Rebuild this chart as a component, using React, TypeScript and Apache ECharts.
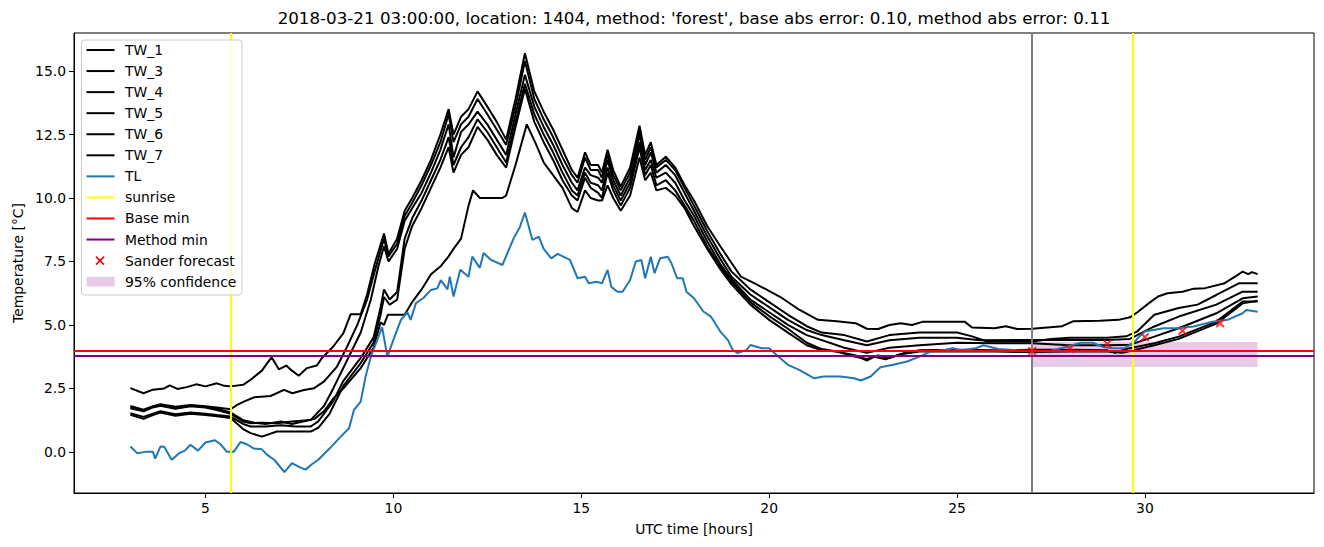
import React, { useEffect, useRef } from "react";
import * as echarts from "echarts";

type P = [number, number];

const TW_1: P[] = [[3,2.51],[3.35,2.31],[3.6,2.45],[3.9,2.5],[4.05,2.62],[4.25,2.48],[4.5,2.55],[4.75,2.66],[5.0,2.58],[5.3,2.7],[5.5,2.6],[5.67,2.58],[6.0,2.64],[6.2,2.84],[6.5,3.2],[6.76,3.73],[6.95,3.25],[7.15,3.4],[7.3,3.2],[7.48,3.0],[7.7,3.3],[7.96,3.4],[8.1,3.7],[8.4,4.15],[8.67,4.68],[8.86,5.42],[9.13,5.42],[9.3,6.2],[9.5,7.4],[9.75,8.6],[9.87,7.8],[10.1,8.4],[10.3,9.5],[10.5,10.0],[10.75,10.7],[11.0,11.5],[11.25,12.5],[11.47,13.5],[11.6,12.5],[11.8,13.2],[12.0,13.5],[12.24,14.2],[12.5,13.6],[12.75,13.0],[13.0,12.3],[13.25,13.9],[13.5,15.7],[13.75,14.2],[14.0,13.4],[14.25,12.7],[14.5,11.9],[14.75,11.1],[14.9,10.8],[15.1,11.8],[15.25,11.3],[15.45,11.3],[15.55,11.0],[15.7,11.9],[15.85,11.1],[16.05,10.45],[16.3,11.2],[16.55,12.85],[16.7,11.7],[16.85,12.2],[17.0,11.3],[17.25,11.63],[17.5,11.2],[17.75,10.5],[18.0,9.9],[18.35,8.9],[18.7,8.1],[19.0,7.44],[19.25,6.9],[19.6,6.65],[20.3,6.1],[20.8,5.6],[21.3,5.2],[21.8,5.15],[22.3,5.07],[22.6,4.85],[22.9,4.84],[23.2,5.0],[23.5,5.07],[23.8,5.0],[24.1,5.13],[25.2,5.13],[25.4,4.9],[26.0,4.87],[26.3,4.95],[26.6,4.84],[27.0,4.85],[27.4,4.9],[27.8,4.95],[28.1,5.15],[28.8,5.17],[29.3,5.2],[29.6,5.3],[29.8,5.5],[30.1,5.85],[30.35,6.12],[30.6,6.25],[31.0,6.31],[31.3,6.43],[31.6,6.45],[32.1,6.63],[32.4,6.9],[32.6,7.1],[32.75,7.0],[32.85,7.08],[33.0,7.0]];

const TW_3: P[] = [[3,1.81],[3.35,1.66],[3.6,1.8],[3.8,1.88],[4.2,1.78],[4.6,1.85],[5.0,1.8],[5.3,1.75],[5.67,1.68],[5.84,1.85],[6.02,1.98],[6.3,2.15],[6.73,2.2],[7.09,2.44],[7.31,2.31],[7.62,2.44],[7.89,2.51],[8.15,2.77],[8.5,3.36],[8.77,4.15],[9.04,5.0],[9.3,6.0],[9.5,7.1],[9.75,8.4],[9.87,7.7],[10.1,8.2],[10.3,9.3],[10.5,9.8],[10.75,10.5],[11.0,11.3],[11.25,12.2],[11.47,13.3],[11.6,12.2],[11.8,12.9],[12.0,13.2],[12.24,13.9],[12.5,13.3],[12.75,12.7],[13.0,12.1],[13.25,13.6],[13.5,15.4],[13.75,13.9],[14.0,13.1],[14.25,12.4],[14.5,11.6],[14.75,10.9],[14.9,10.6],[15.1,11.6],[15.25,11.1],[15.45,11.1],[15.55,10.8],[15.7,11.7],[15.85,10.9],[16.05,10.3],[16.3,11.0],[16.55,12.7],[16.7,11.5],[16.85,12.0],[17.0,11.2],[17.25,11.5],[17.5,11.1],[17.75,10.4],[18.0,9.7],[18.35,8.7],[18.7,7.8],[19.0,7.1],[19.5,6.4],[20.0,5.9],[20.5,5.4],[21.0,4.95],[21.4,4.7],[22.0,4.6],[22.6,4.35],[23.2,4.6],[24.0,4.7],[25.0,4.7],[25.4,4.55],[25.8,4.35],[27.0,4.35],[27.5,4.45],[28.0,4.5],[29.0,4.5],[29.5,4.55],[29.8,4.75],[30.25,5.4],[30.9,5.67],[31.4,5.8],[31.9,6.18],[32.5,6.64],[33.0,6.64]];

const TW_4: P[] = [[3,1.72],[3.35,1.6],[3.6,1.75],[3.8,1.82],[4.2,1.7],[4.6,1.8],[5.0,1.75],[5.3,1.65],[5.67,1.5],[6.0,1.2],[6.2,1.13],[6.5,1.15],[6.9,1.13],[7.3,1.2],[7.8,1.26],[8.15,1.8],[8.4,2.5],[8.7,3.4],[9.13,4.7],[9.4,6.0],[9.6,7.3],[9.75,8.1],[9.87,7.5],[10.1,8.0],[10.3,9.1],[10.5,9.6],[10.75,10.2],[11.0,11.0],[11.25,11.9],[11.47,12.9],[11.6,11.6],[11.8,12.6],[12.0,12.9],[12.24,13.4],[12.5,12.9],[12.75,12.3],[13.0,11.7],[13.25,13.3],[13.5,14.85],[13.75,13.6],[14.0,12.8],[14.25,12.1],[14.5,11.3],[14.75,10.6],[14.9,10.3],[15.1,11.2],[15.25,10.9],[15.45,10.8],[15.55,10.6],[15.7,11.5],[15.85,10.7],[16.05,10.1],[16.3,10.8],[16.55,12.5],[16.7,11.3],[16.85,11.8],[17.0,11.0],[17.25,11.3],[17.5,10.9],[17.75,10.2],[18.0,9.5],[18.35,8.5],[18.7,7.6],[19.0,6.9],[19.5,6.2],[20.0,5.7],[20.5,5.2],[21.0,4.8],[21.4,4.6],[22.0,4.4],[22.6,4.2],[23.2,4.4],[24.0,4.5],[25.0,4.5],[25.6,4.4],[27.0,4.41],[28.0,4.41],[29.0,4.41],[29.6,4.45],[30.25,4.94],[30.9,5.33],[31.9,5.8],[32.6,6.31],[33.0,6.31]];

const TW_5: P[] = [[3,1.52],[3.35,1.38],[3.6,1.5],[3.8,1.6],[4.2,1.48],[4.6,1.55],[5.0,1.5],[5.3,1.45],[5.67,1.39],[6.0,1.1],[6.2,1.0],[6.6,1.0],[7.0,1.05],[7.4,1.0],[7.8,1.0],[8.0,1.2],[8.15,1.5],[8.4,2.0],[8.67,2.8],[9.13,3.7],[9.47,4.5],[9.66,5.7],[9.75,6.4],[9.9,6.0],[10.1,6.3],[10.3,8.4],[10.5,9.2],[10.75,9.9],[11.0,10.7],[11.25,11.5],[11.47,12.4],[11.6,11.3],[11.8,12.0],[12.0,12.4],[12.24,13.1],[12.5,12.6],[12.75,12.0],[13.0,11.4],[13.25,13.0],[13.5,14.5],[13.75,13.3],[14.0,12.5],[14.25,11.8],[14.5,11.0],[14.75,10.3],[14.9,10.1],[15.1,11.0],[15.25,10.6],[15.45,10.5],[15.55,10.3],[15.7,11.2],[15.85,10.5],[16.05,9.9],[16.3,10.6],[16.55,12.2],[16.7,11.1],[16.85,11.5],[17.0,10.8],[17.25,11.0],[17.5,10.6],[17.75,9.9],[18.0,9.3],[18.35,8.3],[18.7,7.4],[19.0,6.8],[19.5,6.0],[20.0,5.5],[20.5,5.0],[21.0,4.6],[21.4,4.4],[22.0,4.1],[22.6,3.9],[23.2,4.1],[24.0,4.2],[25.0,4.3],[26.0,4.28],[27.0,4.28],[28.0,4.2],[29.0,4.2],[29.6,4.22],[30.25,4.54],[30.9,4.87],[31.9,5.46],[32.6,6.05],[33.0,6.12]];

const TW_6: P[] = [[3,1.46],[3.35,1.3],[3.6,1.45],[3.8,1.55],[4.2,1.42],[4.6,1.5],[5.0,1.45],[5.3,1.4],[5.67,1.33],[6.0,0.9],[6.2,0.74],[6.5,0.6],[6.9,0.8],[7.3,0.8],[7.8,0.8],[8.0,0.95],[8.3,1.5],[8.67,2.6],[9.13,3.5],[9.47,4.3],[9.66,5.4],[9.75,6.1],[9.9,5.8],[10.1,6.0],[10.3,8.0],[10.5,8.9],[10.75,9.6],[11.0,10.4],[11.25,11.2],[11.47,12.0],[11.6,11.0],[11.8,11.7],[12.0,12.0],[12.24,12.8],[12.5,12.3],[12.75,11.7],[13.0,11.2],[13.25,12.8],[13.5,14.3],[13.75,13.0],[14.0,12.2],[14.25,11.5],[14.5,10.7],[14.75,10.1],[14.9,9.9],[15.1,10.8],[15.25,10.4],[15.45,10.2],[15.55,10.0],[15.7,11.0],[15.85,10.3],[16.05,9.7],[16.3,10.4],[16.55,12.0],[16.7,10.9],[16.85,11.3],[17.0,10.5],[17.25,10.7],[17.5,10.3],[17.75,9.7],[18.0,9.1],[18.35,8.1],[18.7,7.3],[19.0,6.7],[19.5,5.9],[20.0,5.35],[20.5,4.85],[21.0,4.3],[21.4,4.05],[21.8,3.95],[22.3,3.75],[22.6,3.66],[22.9,3.8],[23.2,3.7],[23.6,3.9],[24.0,4.0],[25.0,4.02],[26.0,4.0],[27.0,4.02],[28.0,4.02],[29.0,4.0],[29.2,3.9],[29.5,4.05],[30.25,4.28],[30.9,4.54],[31.9,5.13],[32.6,5.92],[33.0,5.92]];

const TW_7: P[] = [[3,1.76],[3.35,1.62],[3.6,1.78],[3.8,1.85],[4.2,1.72],[4.6,1.82],[5.0,1.77],[5.3,1.7],[5.67,1.55],[6.0,1.25],[6.3,1.15],[6.6,1.1],[7.0,1.2],[7.3,1.1],[7.6,1.2],[7.9,1.3],[8.15,1.6],[8.4,2.1],[8.67,2.5],[9.13,3.3],[9.47,4.1],[9.66,5.1],[9.75,5.0],[9.85,5.4],[10.3,5.4],[10.5,5.9],[10.75,6.4],[11.0,7.0],[11.25,7.3],[11.47,7.7],[11.6,8.0],[11.8,8.4],[12.0,9.7],[12.12,10.3],[12.3,10.0],[12.9,10.0],[13.0,10.1],[13.25,11.3],[13.55,12.9],[13.8,12.1],[14.0,11.4],[14.25,10.9],[14.5,10.4],[14.75,9.6],[14.9,9.45],[15.1,10.3],[15.25,10.0],[15.45,9.9],[15.55,9.9],[15.7,10.5],[15.85,10.0],[16.05,9.5],[16.3,10.1],[16.55,11.6],[16.7,10.7],[16.85,11.0],[17.0,10.3],[17.25,10.4],[17.5,10.1],[17.75,9.6],[18.0,8.9],[18.35,8.0],[18.7,7.2],[19.0,6.6],[19.5,5.8],[20.0,5.2],[20.5,4.7],[21.0,4.2],[21.4,4.0],[21.8,3.95],[22.3,3.8],[22.6,3.6],[22.8,3.75],[23.1,3.65],[23.5,3.85],[24.0,3.95],[25.0,3.95],[26.0,3.95],[27.0,3.93],[28.0,3.95],[29.0,3.95],[29.4,3.9],[29.7,4.0],[30.25,4.2],[30.9,4.45],[31.9,5.05],[32.6,5.85],[33.0,5.95]];

const TL: P[] = [[3.0,0.21],[3.18,-0.05],[3.4,0.0],[3.6,0.0],[3.66,-0.27],[3.8,0.21],[3.9,0.2],[4.1,-0.31],[4.3,-0.05],[4.45,0.05],[4.6,0.28],[4.8,0.05],[5.0,0.37],[5.25,0.46],[5.4,0.3],[5.57,0.0],[5.75,0.0],[5.93,0.39],[6.1,0.3],[6.29,0.13],[6.5,0.1],[6.65,-0.13],[6.83,-0.31],[7.1,-0.8],[7.3,-0.44],[7.5,-0.6],[7.66,-0.7],[7.84,-0.48],[8.0,-0.31],[8.3,0.13],[8.56,0.54],[8.82,0.93],[8.95,1.65],[9.13,1.98],[9.26,2.97],[9.4,3.75],[9.57,4.41],[9.7,4.91],[9.84,3.75],[10.0,4.41],[10.2,5.2],[10.37,5.5],[10.46,5.2],[10.6,5.86],[10.8,6.06],[11.0,6.38],[11.17,6.44],[11.26,6.77],[11.44,6.4],[11.5,6.9],[11.6,6.12],[11.78,7.17],[12.0,6.9],[12.1,7.69],[12.3,7.25],[12.4,7.83],[12.6,7.56],[12.9,7.36],[13.2,8.41],[13.37,8.87],[13.5,9.43],[13.7,8.35],[13.87,8.48],[14.0,8.0],[14.2,7.62],[14.37,7.8],[14.7,7.56],[14.9,6.84],[15.1,6.9],[15.2,6.64],[15.4,6.7],[15.55,6.64],[15.7,7.17],[15.8,6.5],[15.96,6.31],[16.1,6.31],[16.3,6.77],[16.45,7.5],[16.6,7.56],[16.7,6.84],[16.85,7.69],[16.95,7.04],[17.1,7.63],[17.3,7.69],[17.4,7.43],[17.55,6.84],[17.7,6.84],[17.8,6.31],[18.0,6.05],[18.25,5.53],[18.45,5.33],[18.7,4.74],[18.9,4.41],[19.03,4.02],[19.16,3.89],[19.4,4.02],[19.5,4.21],[19.8,4.08],[20.0,4.08],[20.25,3.75],[20.5,3.43],[20.8,3.23],[21.2,2.9],[21.45,2.97],[21.9,2.97],[22.26,2.9],[22.44,2.81],[22.7,2.97],[22.96,3.33],[23.3,3.43],[23.67,3.56],[24.0,3.75],[24.3,3.95],[24.7,4.02],[24.9,4.08],[25.1,4.0],[25.5,4.08],[25.7,4.2],[26.1,4.05],[26.6,4.0],[27.0,3.97],[27.5,3.98],[27.94,4.15],[28.3,4.3],[28.6,4.3],[28.85,4.15],[29.1,4.08],[29.45,4.08],[29.7,4.3],[29.85,4.54],[30.0,4.74],[30.5,4.87],[30.85,4.87],[31.3,4.94],[31.8,5.13],[32.2,5.2],[32.6,5.46],[32.7,5.59],[33.0,5.52]];

const SANDER_HOURS = [27, 28, 29, 30, 31, 32];
const SANDER_VALUES = [3.97, 4.06, 4.25, 4.52, 4.77, 5.07];

const SUNRISE_HOURS = [5.67, 29.67];
const FORECAST_HOUR = 27;
const BASE_MIN = 3.99;
const METHOD_MIN = 3.79;
const CONF_HOURS = [27, 33];
const CONF_RANGE = [3.34, 4.33];

const X_TICKS = [5, 10, 15, 20, 25, 30];
const Y_TICKS = [0, 2.5, 5, 7.5, 10, 12.5, 15];

const TITLE = "2018-03-21 03:00:00, location: 1404, method: 'forest', base abs error: 0.10, method abs error: 0.11";

const FONT = "DejaVu Sans";
const X_PATH = "path://M0,1.5 L1.5,0 L5,3.5 L8.5,0 L10,1.5 L6.5,5 L10,8.5 L8.5,10 L5,6.5 L1.5,10 L0,8.5 L3.5,5 Z";

export default function App() {
  const ref = useRef<HTMLDivElement>(null);
  useEffect(() => {
    const chart = echarts.init(ref.current!, null, { renderer: "svg" });
    const tw: [string, P[]][] = [["TW_1", TW_1], ["TW_3", TW_3], ["TW_4", TW_4], ["TW_5", TW_5], ["TW_6", TW_6], ["TW_7", TW_7]];
    const lineSeries = tw.map(([name, data]) => ({
      name, type: "line", data, showSymbol: false, symbol: "none", silent: true,
      lineStyle: { color: "#000000", width: 2 }, itemStyle: { color: "#000000" },
    }));
    const mk = (color: string, data: any[], width = 2) => ({
      silent: true, symbol: ["none", "none"], label: { show: false },
      lineStyle: { color, width, type: "solid" }, data,
    });

    const legendItems: { name: string; kind: string; color: string }[] = [
      { name: "TW_1", kind: "line", color: "#000000" },
      { name: "TW_3", kind: "line", color: "#000000" },
      { name: "TW_4", kind: "line", color: "#000000" },
      { name: "TW_5", kind: "line", color: "#000000" },
      { name: "TW_6", kind: "line", color: "#000000" },
      { name: "TW_7", kind: "line", color: "#000000" },
      { name: "TL", kind: "line", color: "#1f77b4" },
      { name: "sunrise", kind: "line", color: "#ffff00" },
      { name: "Base min", kind: "line", color: "#ff0000" },
      { name: "Method min", kind: "line", color: "#800080" },
      { name: "Sander forecast", kind: "x", color: "#ff0000" },
      { name: "95% confidence", kind: "rect", color: "rgba(128,0,128,0.2)" },
    ];
    const legendGraphics: any[] = [
      { type: "rect", shape: { x: 81.5, y: 40, width: 160.5, height: 255, r: 3 }, style: { fill: "rgba(255,255,255,0.8)", stroke: "#cccccc", lineWidth: 1 }, z: 100 },
    ];
    legendItems.forEach((it, i) => {
      const cy = 50 + i * 21.06;
      if (it.kind === "line") {
        legendGraphics.push({ type: "line", shape: { x1: 86.5, y1: cy, x2: 114.5, y2: cy }, style: { stroke: it.color, lineWidth: 2 }, z: 101 });
      } else if (it.kind === "x") {
        legendGraphics.push({ type: "line", shape: { x1: 96, y1: cy - 4, x2: 104, y2: cy + 4 }, style: { stroke: it.color, lineWidth: 1.6 }, z: 101 });
        legendGraphics.push({ type: "line", shape: { x1: 96, y1: cy + 4, x2: 104, y2: cy - 4 }, style: { stroke: it.color, lineWidth: 1.6 }, z: 101 });
      } else {
        legendGraphics.push({ type: "rect", shape: { x: 86.5, y: cy - 4.8, width: 28, height: 9.7 }, style: { fill: it.color }, z: 101 });
      }
      legendGraphics.push({ type: "text", x: 125, y: cy, style: { text: it.name, fontSize: 13.9, fontFamily: FONT, fill: "#000", align: "left", verticalAlign: "middle" }, z: 101 });
    });

    chart.setOption({
      animation: false,
      grid: { left: 74, top: 33, width: 1240, height: 460, show: true, borderColor: "#000", borderWidth: 1, backgroundColor: "transparent" },
      xAxis: {
        type: "value", min: 1.5, max: 34.5,
        axisLine: { show: true, onZero: false, lineStyle: { color: "#000", width: 1 } },
        axisTick: { show: true, customValues: X_TICKS, length: 5, lineStyle: { color: "#000", width: 1 } },
        axisLabel: { customValues: X_TICKS, color: "#000", fontSize: 13.9, fontFamily: FONT, margin: 8, formatter: (v: number) => String(v) },
        splitLine: { show: false },
      },
      yAxis: {
        type: "value", min: -1.62, max: 16.5,
        axisLine: { show: true, onZero: false, lineStyle: { color: "#000", width: 1 } },
        axisTick: { show: true, customValues: Y_TICKS, length: 5, lineStyle: { color: "#000", width: 1 } },
        axisLabel: { customValues: Y_TICKS, color: "#000", fontSize: 13.9, fontFamily: FONT, margin: 8, formatter: (v: number) => v.toFixed(1) },
        splitLine: { show: false },
      },
      series: [
        ...lineSeries,
        { name: "TL", type: "line", data: TL, showSymbol: false, symbol: "none", silent: true, lineStyle: { color: "#1f77b4", width: 2 }, itemStyle: { color: "#1f77b4" } },
        { name: "sunrise", type: "line", data: [], markLine: mk("#ffff00", SUNRISE_HOURS.map((x) => ({ xAxis: x }))) },
        { name: "forecast time", type: "line", data: [], markLine: mk("#808080", [{ xAxis: FORECAST_HOUR }]) },
        { name: "Base min", type: "line", data: [], markLine: mk("#ff0000", [{ yAxis: BASE_MIN }]) },
        { name: "Method min", type: "line", data: [], markLine: mk("#800080", [{ yAxis: METHOD_MIN }]) },
        {
          name: "Sander forecast", type: "scatter", silent: true,
          data: SANDER_HOURS.map((h, i) => [h, SANDER_VALUES[i]]),
          symbol: X_PATH, symbolSize: 9, itemStyle: { color: "#ff0000" }, z: 5,
        },
        {
          name: "95% confidence", type: "line", data: [],
          markArea: {
            silent: true, itemStyle: { color: "rgba(128,0,128,0.2)" },
            data: [[{ xAxis: CONF_HOURS[0], yAxis: CONF_RANGE[0] }, { xAxis: CONF_HOURS[1], yAxis: CONF_RANGE[1] }]],
          },
        },
      ],
      graphic: [
        { type: "text", x: 694, y: 18, style: { text: TITLE, fontSize: 16.7, fontFamily: FONT, fill: "#000", align: "center", verticalAlign: "middle" } },
        { type: "text", x: 694, y: 529, style: { text: "UTC time [hours]", fontSize: 13.9, fontFamily: FONT, fill: "#000", align: "center", verticalAlign: "middle" } },
        { type: "text", x: 18, y: 263, rotation: Math.PI / 2, style: { text: "Temperature [°C]", fontSize: 13.9, fontFamily: FONT, fill: "#000", align: "center", verticalAlign: "middle" } },
        ...legendGraphics,
      ],
    });
    return () => chart.dispose();
  }, []);
  return <div ref={ref} style={{ position: "absolute", left: 0, top: 0, width: 1324, height: 547 }} />;
}
